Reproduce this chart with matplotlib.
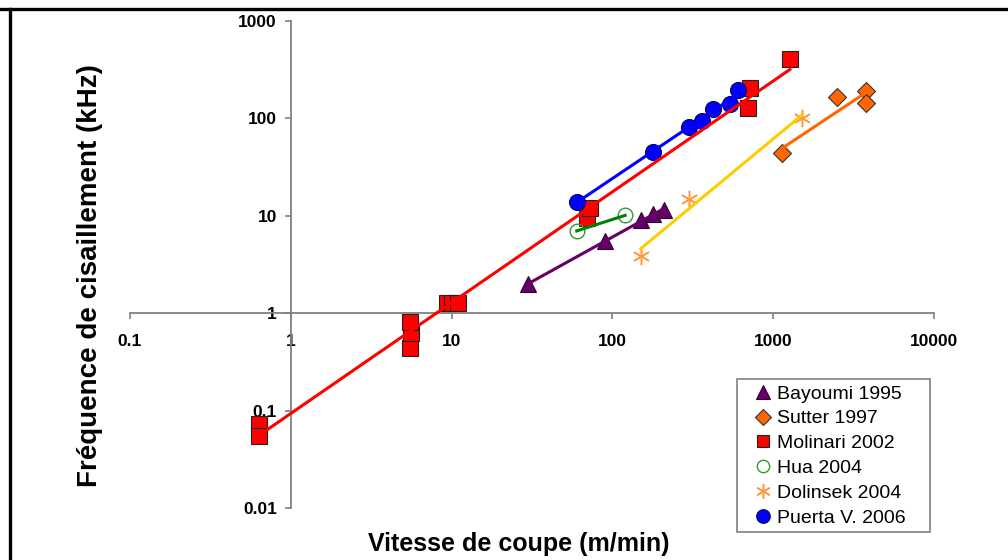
import numpy as np
import matplotlib.pyplot as plt
from matplotlib.lines import Line2D
from matplotlib.patches import Rectangle

plt.rcParams['font.family'] = ['Liberation Sans', 'DejaVu Sans']

# Bayoumi 1995
bayoumi_v = [30, 90, 150, 180, 210]
bayoumi_f = [2.0, 5.5, 9.0, 10.5, 11.5]
# Sutter 1997
sutter_v = [1140, 2500, 3800, 3800]
sutter_f = [44, 165, 190, 145]
# Molinari 2002
molinari_v = [0.63, 0.63, 5.5, 5.6, 5.5, 9.3, 10, 10.9, 70, 73, 700, 716, 1270]
molinari_f = [0.072, 0.055, 0.44, 0.63, 0.82, 1.28, 1.28, 1.27, 9.5, 12, 127, 205, 405]
# Hua 2004
hua_v = [60, 120]
hua_f = [7.0, 10.1]
# Dolinsek 2004
dolinsek_v = [150, 300, 1500]
dolinsek_f = [3.9, 15, 100]
# Puerta V. 2006
puerta_v = [60, 180, 300, 360, 420, 540, 600]
puerta_f = [14, 45, 82, 95, 125, 142, 195]

series = [
    ("Bayoumi 1995", bayoumi_v, bayoumi_f,
     dict(marker='^', ms=11.5, mfc='#660066', mec='#330033', mew=0.8), '#660066'),
    ("Sutter 1997", sutter_v, sutter_f,
     dict(marker='D', ms=9, mfc='#FF6600', mec='#333333', mew=0.8), '#FF6600'),
    ("Molinari 2002", molinari_v, molinari_f,
     dict(marker='s', ms=11, mfc='#FF0000', mec='#222222', mew=0.8), '#FF0000'),
    ("Hua 2004", hua_v, hua_f,
     dict(marker='o', ms=10.5, mfc='none', mec='#339933', mew=1.0), '#008000'),
    ("Dolinsek 2004", dolinsek_v, dolinsek_f,
     dict(marker=(6, 2, 0), ms=12.5, mfc='none', mec='#FF9944', mew=1.1), '#FFCC00'),
    ("Puerta V. 2006", puerta_v, puerta_f,
     dict(marker='o', ms=11.5, mfc='#0000FF', mec='#000066', mew=0.8), '#0000FF'),
]

fig = plt.figure(figsize=(10.08, 5.6), dpi=100)
ax = fig.add_axes([130 / 1008, 1 - 508 / 560, 804 / 1008, 487 / 560])
ax.set_xscale('log')
ax.set_yscale('log')
ax.set_xlim(0.1, 10000)
ax.set_ylim(0.01, 1000)

handles = []
for name, v, f, mk, lc in series:
    v = np.array(v, dtype=float)
    f = np.array(f, dtype=float)
    # power trendline (linear fit in log-log)
    p = np.polyfit(np.log10(v), np.log10(f), 1)
    xs = np.array([v.min(), v.max()])
    ax.plot(xs, 10 ** np.polyval(p, np.log10(xs)), color=lc, lw=2.2, zorder=3)
    h, = ax.plot(v, f, ls='none', zorder=2, **mk)
    handles.append(h)

# axes crossing at (1, 1)
for s in ['top', 'right']:
    ax.spines[s].set_visible(False)
ax.spines['left'].set_position(('data', 1))
ax.spines['bottom'].set_position(('data', 1))
for s in ['left', 'bottom']:
    ax.spines[s].set_color('#808080')
    ax.spines[s].set_linewidth(1.3)
ax.minorticks_off()
ax.set_xticks([0.1, 1, 10, 100, 1000, 10000])
ax.set_xticklabels(['0.1', '1', '10', '100', '1000', '10000'])
ax.set_yticks([0.01, 0.1, 1, 10, 100, 1000])
ax.set_yticklabels(['0.01', '0.1', '1', '10', '100', '1000'])
ax.tick_params(axis='x', direction='out', length=4, width=1.2, color='#808080',
               pad=11, labelsize=12.5)
ax.tick_params(axis='y', direction='out', length=4, width=1.2, color='#808080',
               pad=6, labelsize=12.5)
for lab in ax.get_xticklabels() + ax.get_yticklabels():
    lab.set_fontweight('bold')

fig.text(519 / 1008, 1 - 544 / 560, "Vitesse de coupe (m/min)", ha='center',
         va='center', fontsize=18, fontweight='bold')
fig.text(90 / 1008, 1 - 276 / 560, "Fréquence de cisaillement (kHz)", ha='center',
         va='center', rotation=90, fontsize=20, fontweight='bold')

# legend box drawn separately so its size matches the original
fig.add_artist(Rectangle((737 / 1008, 1 - 532 / 560), 193 / 1008, 153 / 560,
                         transform=fig.transFigure, fill=False,
                         edgecolor='#808080', lw=1.2))
leg = fig.legend(handles, [s[0] for s in series], loc='upper left',
                 bbox_to_anchor=(753 / 1008, 1 - 385 / 560), borderaxespad=0,
                 frameon=False, fontsize=14, handlelength=1.0,
                 handletextpad=0.25, labelspacing=0.37, borderpad=0,
                 markerscale=0.85)

# outer frame (top and left edges)
fig.add_artist(Line2D([0, 1], [1 - 8.5 / 560] * 2, color='black', lw=2.4))
fig.add_artist(Line2D([10 / 1008] * 2, [0, 1 - 8.5 / 560], color='black', lw=2.4))

fig.savefig('out.png', dpi=100)
